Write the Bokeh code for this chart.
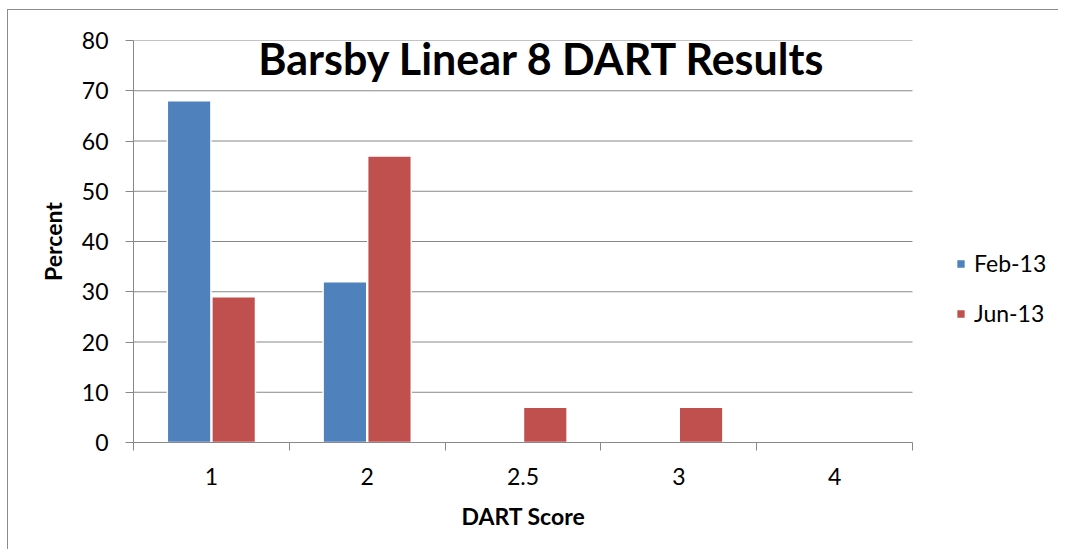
from bokeh.plotting import figure
from bokeh.models import (Range1d, FixedTicker, Legend, LegendItem, Label, Title,
                          ColumnDataSource)
from bokeh.transform import dodge
from bokeh.embed import file_html
from bokeh.resources import INLINE

# ---- data ----
categories = ["1", "2", "2.5", "3", "4"]
feb13 = [68, 32, 0, 0, 0]
jun13 = [29, 57, 7, 7, 0]
series_names = ["Feb-13", "Jun-13"]
y_ticks = [0, 10, 20, 30, 40, 50, 60, 70, 80]
title_text = "Barsby Linear 8 DART Results"
x_title = "DART Score"
y_title = "Percent"

# ---- style ----
FONT = "Lato"
BLUE = "#4F81BD"
RED = "#C0504D"
GRID = "#888888"
W, H = 1051, 540
LEFT, TOP, BOTTOM, RIGHT = 125, 30, 108, 10
CAT_PX = 155.8                       # pixel width of one category slot
n = len(categories)
x_end = (W - LEFT - RIGHT) / CAT_PX  # frame extends past the categories (legend area)

centers = [i + 0.5 for i in range(n)]
src = ColumnDataSource(dict(x=centers, feb=feb13, jun=jun13))
grid_src = ColumnDataSource(dict(y=y_ticks, x0=[0] * len(y_ticks), x1=[n] * len(y_ticks)))

p = figure(width=W, height=H,
           x_range=Range1d(0, x_end), y_range=Range1d(0, y_ticks[-1]),
           output_backend="svg", toolbar_location=None,
           min_border_left=LEFT, min_border_right=RIGHT,
           min_border_top=TOP, min_border_bottom=BOTTOM)
p.styles = {"margin": "9px 0px 0px 7px",
            "border-top": "1px solid #8c8c8c",
            "border-left": "1px solid #8c8c8c"}
p.outline_line_color = None
p.background_fill_color = "white"
p.border_fill_color = "white"

# grid lines (only over the category area)
p.xgrid.visible = False
p.ygrid.visible = False
p.segment(x0="x0", x1="x1", y0="y", y1="y", source=grid_src,
          line_color=GRID, line_width=1)

bw = 0.28
r1 = p.vbar(x=dodge("x", -0.143, range=p.x_range), top="feb", width=bw, bottom=0,
            source=src, fill_color=BLUE, line_color="white", line_width=1.5)
r2 = p.vbar(x=dodge("x", 0.143, range=p.x_range), top="jun", width=bw, bottom=0,
            source=src, fill_color=RED, line_color="white", line_width=1.5)

# x axis
xa = p.xaxis[0]
xa.bounds = (0, n)
xa.ticker = FixedTicker(ticks=centers, minor_ticks=list(range(n + 1)))
xa.major_label_overrides = {c: lab for c, lab in zip(centers, categories)}
xa.major_tick_out = 0
xa.major_tick_in = 0
xa.minor_tick_out = 8
xa.minor_tick_in = 0
xa.minor_tick_line_color = GRID
xa.axis_line_color = GRID
xa.major_label_text_font = FONT
xa.major_label_text_font_size = "23px"
xa.major_label_text_color = "black"
xa.major_label_standoff = 17

# x axis title, centred under the category area
xt = Title(text=x_title, align="left", offset=328, standoff=24,
           text_font=FONT, text_font_style="bold", text_font_size="23px",
           text_color="black")
p.add_layout(xt, "below")

# y axis
ya = p.yaxis[0]
ya.ticker = FixedTicker(ticks=y_ticks)
ya.major_tick_out = 8
ya.major_tick_in = 0
ya.minor_tick_out = 0
ya.minor_tick_in = 0
ya.major_tick_line_color = GRID
ya.axis_line_color = GRID
ya.major_label_text_font = FONT
ya.major_label_text_font_size = "23px"
ya.major_label_text_color = "black"
ya.major_label_standoff = 17
ya.axis_label = y_title
ya.axis_label_text_font = FONT
ya.axis_label_text_font_style = "bold"
ya.axis_label_text_font_size = "23px"
ya.axis_label_text_color = "black"
ya.axis_label_standoff = 12

# chart title inside plot area
title = Label(x=2.625, y=76.5, text=title_text, text_font=FONT, text_font_style="bold",
              text_font_size="43px", text_color="black",
              text_align="center", text_baseline="middle")
p.add_layout(title)

# legend (inside the frame, right of the category area)
legend = Legend(items=[LegendItem(label=series_names[0], renderers=[r1]),
                       LegendItem(label=series_names[1], renderers=[r2])],
                location=(822, 115), orientation="vertical",
                border_line_color=None, background_fill_alpha=0,
                glyph_width=11, glyph_height=11, label_standoff=8,
                spacing=22, padding=0, margin=0,
                label_text_font=FONT, label_text_font_size="23px",
                label_text_color="black")
p.add_layout(legend)

open("out.html", "w").write(file_html(p, INLINE))
